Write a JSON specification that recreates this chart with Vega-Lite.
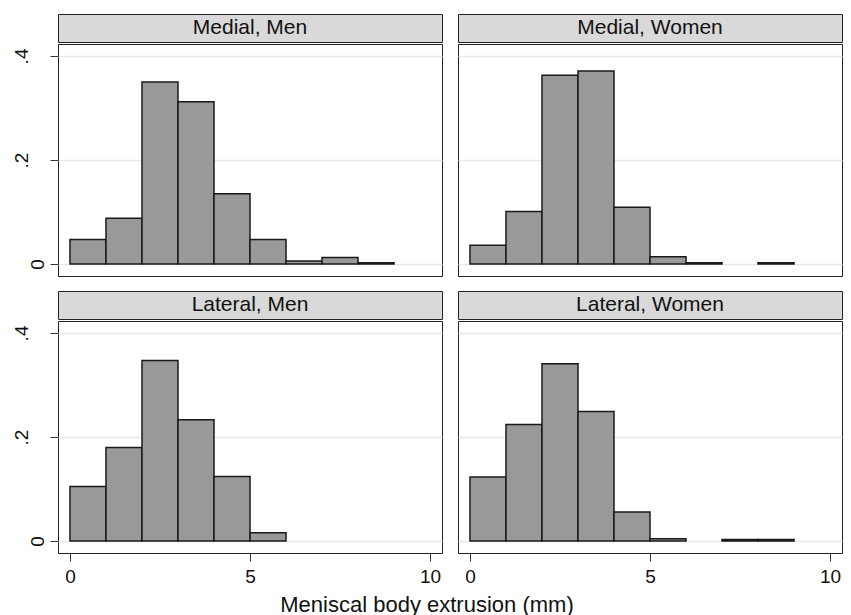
{
  "$schema": "https://vega.github.io/schema/vega-lite/v6.json",
  "padding": {"left": 11, "top": 13, "right": 5, "bottom": 0},
  "background": "white",
  "datasets": {
    "hist": [
      {"panel": "Medial, Men", "lo": 0, "hi": 1, "density": 0.047},
      {"panel": "Medial, Men", "lo": 1, "hi": 2, "density": 0.088},
      {"panel": "Medial, Men", "lo": 2, "hi": 3, "density": 0.35},
      {"panel": "Medial, Men", "lo": 3, "hi": 4, "density": 0.312},
      {"panel": "Medial, Men", "lo": 4, "hi": 5, "density": 0.135},
      {"panel": "Medial, Men", "lo": 5, "hi": 6, "density": 0.047},
      {"panel": "Medial, Men", "lo": 6, "hi": 7, "density": 0.006},
      {"panel": "Medial, Men", "lo": 7, "hi": 8, "density": 0.0125},
      {"panel": "Medial, Men", "lo": 8, "hi": 9, "density": 0.0025},
      {"panel": "Medial, Women", "lo": 0, "hi": 1, "density": 0.036},
      {"panel": "Medial, Women", "lo": 1, "hi": 2, "density": 0.101},
      {"panel": "Medial, Women", "lo": 2, "hi": 3, "density": 0.363},
      {"panel": "Medial, Women", "lo": 3, "hi": 4, "density": 0.371},
      {"panel": "Medial, Women", "lo": 4, "hi": 5, "density": 0.109},
      {"panel": "Medial, Women", "lo": 5, "hi": 6, "density": 0.014},
      {"panel": "Medial, Women", "lo": 6, "hi": 7, "density": 0.0025},
      {"panel": "Medial, Women", "lo": 8, "hi": 9, "density": 0.0025},
      {"panel": "Lateral, Men", "lo": 0, "hi": 1, "density": 0.105},
      {"panel": "Lateral, Men", "lo": 1, "hi": 2, "density": 0.18},
      {"panel": "Lateral, Men", "lo": 2, "hi": 3, "density": 0.347},
      {"panel": "Lateral, Men", "lo": 3, "hi": 4, "density": 0.233},
      {"panel": "Lateral, Men", "lo": 4, "hi": 5, "density": 0.124},
      {"panel": "Lateral, Men", "lo": 5, "hi": 6, "density": 0.016},
      {"panel": "Lateral, Women", "lo": 0, "hi": 1, "density": 0.123},
      {"panel": "Lateral, Women", "lo": 1, "hi": 2, "density": 0.224},
      {"panel": "Lateral, Women", "lo": 2, "hi": 3, "density": 0.341},
      {"panel": "Lateral, Women", "lo": 3, "hi": 4, "density": 0.249},
      {"panel": "Lateral, Women", "lo": 4, "hi": 5, "density": 0.056},
      {"panel": "Lateral, Women", "lo": 5, "hi": 6, "density": 0.0045},
      {"panel": "Lateral, Women", "lo": 7, "hi": 8, "density": 0.003},
      {"panel": "Lateral, Women", "lo": 8, "hi": 9, "density": 0.003}
    ]
  },
  "columns": 2,
  "spacing": {"row": 13, "column": 14},
  "concat": [
    {
      "spacing": 0,
      "vconcat": [
        {
          "width": 384, "height": 28,
          "view": {"fill": "#d9d9d9", "stroke": "#222"},
          "data": {"values": [{"panel": "Medial, Men"}]},
          "mark": {"type": "text", "fontSize": 21, "color": "#111"},
          "encoding": {"text": {"field": "panel"}}
        },
        {
          "width": 384, "height": 232,
          "data": {"name": "hist"},
          "transform": [{"filter": "datum.panel === 'Medial, Men'"}],
          "mark": {"type": "bar", "fill": "#999999", "stroke": "#1a1a1a", "strokeWidth": 1.5},
          "encoding": {
            "x": {"field": "lo", "type": "quantitative", "scale": {"domain": [-0.333, 10.333], "nice": false, "zero": false}, "axis": null},
            "x2": {"field": "hi"},
            "y": {"field": "density", "type": "quantitative", "scale": {"domain": [-0.023, 0.423], "nice": false, "zero": false},
                  "axis": {"values": [0, 0.2, 0.4], "labelExpr": "datum.value == 0 ? '0' : substring(format(datum.value, '.1f'), 1)", "labelAngle": -90, "labelAlign": "center", "labelBaseline": "bottom",
                           "labelPadding": {"condition": {"test": "datum.value == 0", "value": 3}, "value": 19}, "title": null}},
            "y2": {"datum": 0}
          }
        }
      ]
    },
    {
      "spacing": 0,
      "vconcat": [
        {
          "width": 384, "height": 28,
          "view": {"fill": "#d9d9d9", "stroke": "#222"},
          "data": {"values": [{"panel": "Medial, Women"}]},
          "mark": {"type": "text", "fontSize": 21, "color": "#111"},
          "encoding": {"text": {"field": "panel"}}
        },
        {
          "width": 384, "height": 232,
          "data": {"name": "hist"},
          "transform": [{"filter": "datum.panel === 'Medial, Women'"}],
          "mark": {"type": "bar", "fill": "#999999", "stroke": "#1a1a1a", "strokeWidth": 1.5},
          "encoding": {
            "x": {"field": "lo", "type": "quantitative", "scale": {"domain": [-0.333, 10.333], "nice": false, "zero": false}, "axis": null},
            "x2": {"field": "hi"},
            "y": {"field": "density", "type": "quantitative", "scale": {"domain": [-0.023, 0.423], "nice": false, "zero": false},
                  "axis": {"values": [0, 0.2, 0.4], "labels": false, "ticks": false, "title": null}},
            "y2": {"datum": 0}
          }
        }
      ]
    },
    {
      "spacing": 0,
      "vconcat": [
        {
          "width": 384, "height": 28,
          "view": {"fill": "#d9d9d9", "stroke": "#222"},
          "data": {"values": [{"panel": "Lateral, Men"}]},
          "mark": {"type": "text", "fontSize": 21, "color": "#111"},
          "encoding": {"text": {"field": "panel"}}
        },
        {
          "width": 384, "height": 232,
          "data": {"name": "hist"},
          "transform": [{"filter": "datum.panel === 'Lateral, Men'"}],
          "mark": {"type": "bar", "fill": "#999999", "stroke": "#1a1a1a", "strokeWidth": 1.5},
          "encoding": {
            "x": {"field": "lo", "type": "quantitative", "scale": {"domain": [-0.333, 10.333], "nice": false, "zero": false},
                  "axis": {"values": [0, 5, 10], "title": null, "grid": false, "labelPadding": 6}},
            "x2": {"field": "hi"},
            "y": {"field": "density", "type": "quantitative", "scale": {"domain": [-0.023, 0.423], "nice": false, "zero": false},
                  "axis": {"values": [0, 0.2, 0.4], "labelExpr": "datum.value == 0 ? '0' : substring(format(datum.value, '.1f'), 1)", "labelAngle": -90, "labelAlign": "center", "labelBaseline": "bottom",
                           "labelPadding": {"condition": {"test": "datum.value == 0", "value": 3}, "value": 19}, "title": null}},
            "y2": {"datum": 0}
          }
        }
      ]
    },
    {
      "spacing": 0,
      "vconcat": [
        {
          "width": 384, "height": 28,
          "view": {"fill": "#d9d9d9", "stroke": "#222"},
          "data": {"values": [{"panel": "Lateral, Women"}]},
          "mark": {"type": "text", "fontSize": 21, "color": "#111"},
          "encoding": {"text": {"field": "panel"}}
        },
        {
          "width": 384, "height": 232,
          "data": {"name": "hist"},
          "transform": [{"filter": "datum.panel === 'Lateral, Women'"}],
          "mark": {"type": "bar", "fill": "#999999", "stroke": "#1a1a1a", "strokeWidth": 1.5},
          "encoding": {
            "x": {"field": "lo", "type": "quantitative", "scale": {"domain": [-0.333, 10.333], "nice": false, "zero": false},
                  "axis": {"values": [0, 5, 10], "title": null, "grid": false, "labelPadding": 6}},
            "x2": {"field": "hi"},
            "y": {"field": "density", "type": "quantitative", "scale": {"domain": [-0.023, 0.423], "nice": false, "zero": false},
                  "axis": {"values": [0, 0.2, 0.4], "labels": false, "ticks": false, "title": null}},
            "y2": {"datum": 0}
          }
        }
      ]
    }
  ],
  "title": {"text": "Meniscal body extrusion (mm)", "orient": "bottom", "anchor": "middle", "fontSize": 22, "fontWeight": "normal", "color": "#111", "offset": 8},
  "config": {
    "font": "Liberation Sans",
    "text": {"font": "Liberation Sans"},
    "axis": {"labelFont": "Liberation Sans", "labelFontSize": 19, "labelColor": "#111", "tickColor": "#333", "tickSize": 8, "tickWidth": 1, "domain": false, "gridColor": "#e8e8e8", "gridWidth": 1.5},
    "view": {"stroke": "#222", "strokeWidth": 1}
  }
}
